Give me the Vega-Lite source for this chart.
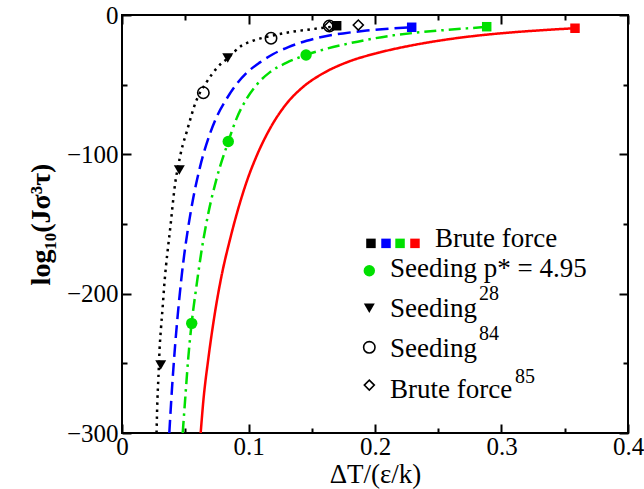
{
  "$schema": "https://vega.github.io/schema/vega-lite/v6.json",
  "width": 506,
  "height": 418,
  "autosize": {"type": "none"},
  "padding": {"left": 122, "top": 15, "right": 16, "bottom": 56},
  "background": "white",
  "config": {
    "view": {"stroke": "black", "strokeWidth": 2},
    "font": "Liberation Serif, serif",
    "axis": {
      "labelFont": "Liberation Serif, serif",
      "titleFont": "Liberation Serif, serif",
      "labelColor": "black",
      "titleColor": "black",
      "tickColor": "black",
      "tickWidth": 2,
      "domain": false,
      "grid": false,
      "labelFontSize": 25,
      "titleFontSize": 27,
      "titleFontWeight": "normal",
      "labelOverlap": false,
      "labelFlush": false
    }
  },
  "datasets": {
    "curves": [
      {"series": "s1", "x": 0.0273, "y": -300}, {"series": "s1", "x": 0.0280, "y": -276}, {"series": "s1", "x": 0.0288, "y": -260},
      {"series": "s1", "x": 0.0297, "y": -240}, {"series": "s1", "x": 0.0308, "y": -225}, {"series": "s1", "x": 0.0322, "y": -209},
      {"series": "s1", "x": 0.0334, "y": -194}, {"series": "s1", "x": 0.0348, "y": -180}, {"series": "s1", "x": 0.0366, "y": -165},
      {"series": "s1", "x": 0.0385, "y": -150}, {"series": "s1", "x": 0.0402, "y": -135}, {"series": "s1", "x": 0.0420, "y": -121},
      {"series": "s1", "x": 0.0445, "y": -108}, {"series": "s1", "x": 0.0470, "y": -97}, {"series": "s1", "x": 0.0511, "y": -84},
      {"series": "s1", "x": 0.0585, "y": -62}, {"series": "s1", "x": 0.0670, "y": -48}, {"series": "s1", "x": 0.0750, "y": -38},
      {"series": "s1", "x": 0.0836, "y": -31}, {"series": "s1", "x": 0.0946, "y": -22}, {"series": "s1", "x": 0.1036, "y": -18.5},
      {"series": "s1", "x": 0.1180, "y": -15}, {"series": "s1", "x": 0.1350, "y": -12}, {"series": "s1", "x": 0.1500, "y": -10.2},
      {"series": "s1", "x": 0.1697, "y": -8},
      {"series": "s2", "x": 0.0374, "y": -300}, {"series": "s2", "x": 0.0385, "y": -283}, {"series": "s2", "x": 0.0396, "y": -267},
      {"series": "s2", "x": 0.0406, "y": -254}, {"series": "s2", "x": 0.0420, "y": -237}, {"series": "s2", "x": 0.0432, "y": -224},
      {"series": "s2", "x": 0.0445, "y": -211}, {"series": "s2", "x": 0.0458, "y": -199}, {"series": "s2", "x": 0.0472, "y": -187},
      {"series": "s2", "x": 0.0492, "y": -172}, {"series": "s2", "x": 0.0524, "y": -152}, {"series": "s2", "x": 0.0564, "y": -131},
      {"series": "s2", "x": 0.0617, "y": -109}, {"series": "s2", "x": 0.0696, "y": -85}, {"series": "s2", "x": 0.0749, "y": -73},
      {"series": "s2", "x": 0.0828, "y": -60}, {"series": "s2", "x": 0.0907, "y": -49.5}, {"series": "s2", "x": 0.0986, "y": -41.5},
      {"series": "s2", "x": 0.1091, "y": -34}, {"series": "s2", "x": 0.1196, "y": -28}, {"series": "s2", "x": 0.1315, "y": -23},
      {"series": "s2", "x": 0.1460, "y": -18.5}, {"series": "s2", "x": 0.1618, "y": -15}, {"series": "s2", "x": 0.1747, "y": -13.2},
      {"series": "s2", "x": 0.1934, "y": -11.2}, {"series": "s2", "x": 0.2119, "y": -9.8}, {"series": "s2", "x": 0.2290, "y": -8.8},
      {"series": "s3", "x": 0.0480, "y": -300}, {"series": "s3", "x": 0.0504, "y": -270}, {"series": "s3", "x": 0.0524, "y": -246},
      {"series": "s3", "x": 0.0551, "y": -221}, {"series": "s3", "x": 0.0591, "y": -193}, {"series": "s3", "x": 0.0630, "y": -168.5},
      {"series": "s3", "x": 0.0682, "y": -142.5}, {"series": "s3", "x": 0.0749, "y": -117}, {"series": "s3", "x": 0.0840, "y": -91},
      {"series": "s3", "x": 0.0907, "y": -74}, {"series": "s3", "x": 0.0986, "y": -60}, {"series": "s3", "x": 0.1065, "y": -50},
      {"series": "s3", "x": 0.1170, "y": -41}, {"series": "s3", "x": 0.1302, "y": -34.2}, {"series": "s3", "x": 0.1455, "y": -28.7},
      {"series": "s3", "x": 0.1618, "y": -24.2}, {"series": "s3", "x": 0.1750, "y": -21.3}, {"series": "s3", "x": 0.1934, "y": -17.8},
      {"series": "s3", "x": 0.2145, "y": -14.6}, {"series": "s3", "x": 0.2303, "y": -12.9}, {"series": "s3", "x": 0.2540, "y": -10.9},
      {"series": "s3", "x": 0.2725, "y": -9.6}, {"series": "s3", "x": 0.2883, "y": -8.6},
      {"series": "s4", "x": 0.0622, "y": -300}, {"series": "s4", "x": 0.0643, "y": -277}, {"series": "s4", "x": 0.0682, "y": -247},
      {"series": "s4", "x": 0.0735, "y": -213.5}, {"series": "s4", "x": 0.0783, "y": -189}, {"series": "s4", "x": 0.0854, "y": -161},
      {"series": "s4", "x": 0.0911, "y": -141.5}, {"series": "s4", "x": 0.0986, "y": -119.5}, {"series": "s4", "x": 0.1065, "y": -101},
      {"series": "s4", "x": 0.1170, "y": -81.5}, {"series": "s4", "x": 0.1302, "y": -63.5}, {"series": "s4", "x": 0.1433, "y": -51.5},
      {"series": "s4", "x": 0.1591, "y": -41.8}, {"series": "s4", "x": 0.1776, "y": -34}, {"series": "s4", "x": 0.2040, "y": -26.8},
      {"series": "s4", "x": 0.2303, "y": -21.6}, {"series": "s4", "x": 0.2567, "y": -17.6}, {"series": "s4", "x": 0.2830, "y": -14.6},
      {"series": "s4", "x": 0.3093, "y": -12.4}, {"series": "s4", "x": 0.3357, "y": -10.7}, {"series": "s4", "x": 0.3581, "y": -9.5}
    ],
    "squares": [
      {"series": "s1", "x": 0.1697, "y": -7.7}, {"series": "s2", "x": 0.2290, "y": -8.8},
      {"series": "s3", "x": 0.2883, "y": -8.4}, {"series": "s4", "x": 0.3581, "y": -9.5},
      {"series": "s1", "x": 0.1968, "y": -163.9}, {"series": "s2", "x": 0.2087, "y": -163.9},
      {"series": "s3", "x": 0.2198, "y": -163.9}, {"series": "s4", "x": 0.2316, "y": -163.9}
    ],
    "markers": [
      {"kind": "seedp", "x": 0.0551, "y": -221.3}, {"kind": "seedp", "x": 0.0840, "y": -90.8},
      {"kind": "seedp", "x": 0.1455, "y": -28.7}, {"kind": "seedp", "x": 0.1955, "y": -183.5},
      {"kind": "seed28", "x": 0.0306, "y": -251.2}, {"kind": "seed28", "x": 0.0453, "y": -111.3},
      {"kind": "seed28", "x": 0.0836, "y": -30.9}, {"kind": "seed28", "x": 0.1955, "y": -210.5},
      {"kind": "seed84", "x": 0.0643, "y": -55.8}, {"kind": "seed84", "x": 0.1178, "y": -16.7},
      {"kind": "seed84", "x": 0.1639, "y": -7.9}, {"kind": "seed84", "x": 0.1955, "y": -238.5},
      {"kind": "brute85", "x": 0.1639, "y": -7.9}, {"kind": "brute85", "x": 0.1868, "y": -7.2},
      {"kind": "brute85", "x": 0.1955, "y": -265.6}
    ],
    "legendText": [
      {"label": "Brute force", "x": 0.2474, "y": -166.8},
      {"label": "Seeding p* = 4.95", "x": 0.2119, "y": -187.8},
      {"label": "Seeding", "x": 0.2119, "y": -216.5},
      {"label": "Seeding", "x": 0.2119, "y": -245.2},
      {"label": "Brute force", "x": 0.2119, "y": -275.1}
    ],
    "legendSup": [
      {"label": "28", "x": 0.2823, "y": -204.5},
      {"label": "84", "x": 0.2823, "y": -233.3},
      {"label": "85", "x": 0.3107, "y": -263.9}
    ]
  },
  "resolve": {"axis": {"x": "independent", "y": "independent"}},
  "layer": [
    {
      "data": {"name": "curves"},
      "mark": {"type": "line", "strokeWidth": 2.5, "interpolate": "monotone", "clip": true},
      "encoding": {
        "x": {"field": "x", "type": "quantitative", "scale": {"domain": [0, 0.4], "nice": false, "zero": false},
          "axis": {"orient": "bottom", "values": [0, 0.1, 0.2, 0.3, 0.4], "format": "~g", "tickSize": -9, "labelPadding": 10,
            "title": "ΔT/(ε/k)", "titleX": 253, "titleY": 49, "titleAlign": "center", "titleBaseline": "alphabetic"}},
        "y": {"field": "y", "type": "quantitative", "scale": {"domain": [-300, 0], "nice": false, "zero": false},
          "axis": {"orient": "left", "values": [0, -100, -200, -300], "tickSize": -9, "labelPadding": 13,
            "title": "log₁₀(Jσ³τ)", "titleFontSize": 28, "titleFontWeight": "bold", "titleX": -81, "titleY": 209, "titleAngle": -90, "titleAlign": "center", "titleBaseline": "middle"}},
        "color": {"field": "series", "type": "nominal", "scale": {"domain": ["s1", "s2", "s3", "s4"], "range": ["black", "blue", "#00e000", "red"]}, "legend": null},
        "strokeDash": {"field": "series", "type": "nominal", "scale": {"domain": ["s1", "s2", "s3", "s4"], "range": [[2.5, 4.5], [13, 6], [12, 5, 2.5, 5], [1, 0]]}, "legend": null}
      }
    },
    {
      "data": {"name": "squares"},
      "mark": {"type": "point", "shape": "square", "filled": true, "size": 90, "opacity": 1},
      "encoding": {
        "x": {"field": "x", "type": "quantitative", "axis": {"orient": "top", "values": [0, 0.1, 0.2, 0.3, 0.4], "tickSize": -9, "labels": false, "title": null}},
        "y": {"field": "y", "type": "quantitative", "axis": {"orient": "right", "values": [0, -100, -200, -300], "tickSize": -9, "labels": false, "title": null}},
        "color": {"field": "series", "type": "nominal", "legend": null}
      }
    },
    {
      "data": {"name": "markers"},
      "transform": [{"filter": "datum.kind === 'seedp'"}],
      "mark": {"type": "point", "shape": "circle", "filled": true, "size": 130, "color": "#00e000", "opacity": 1},
      "encoding": {
        "x": {"field": "x", "type": "quantitative", "axis": {"orient": "bottom", "values": [0.05, 0.15, 0.25, 0.35], "tickSize": -5, "labels": false, "title": null}},
        "y": {"field": "y", "type": "quantitative", "axis": {"orient": "left", "values": [-50, -150, -250], "tickSize": -5, "labels": false, "title": null}}
      }
    },
    {
      "data": {"name": "markers"},
      "transform": [{"filter": "datum.kind === 'seed28'"}],
      "mark": {"type": "point", "shape": "triangle-down", "filled": true, "size": 120, "color": "black", "opacity": 1},
      "encoding": {
        "x": {"field": "x", "type": "quantitative", "axis": {"orient": "top", "values": [0.05, 0.15, 0.25, 0.35], "tickSize": -5, "labels": false, "title": null}},
        "y": {"field": "y", "type": "quantitative", "axis": {"orient": "right", "values": [-50, -150, -250], "tickSize": -5, "labels": false, "title": null}}
      }
    },
    {
      "data": {"name": "markers"},
      "transform": [{"filter": "datum.kind === 'seed84'"}],
      "mark": {"type": "point", "shape": "circle", "filled": false, "size": 130, "color": "black", "strokeWidth": 1.6, "opacity": 1},
      "encoding": {
        "x": {"field": "x", "type": "quantitative", "axis": null},
        "y": {"field": "y", "type": "quantitative", "axis": null}
      }
    },
    {
      "data": {"name": "markers"},
      "transform": [{"filter": "datum.kind === 'brute85'"}],
      "mark": {"type": "point", "shape": "diamond", "filled": false, "size": 100, "color": "black", "strokeWidth": 1.6, "opacity": 1},
      "encoding": {
        "x": {"field": "x", "type": "quantitative", "axis": null},
        "y": {"field": "y", "type": "quantitative", "axis": null}
      }
    },
    {
      "data": {"name": "legendText"},
      "mark": {"type": "text", "align": "left", "baseline": "alphabetic", "fontSize": 27, "font": "Liberation Serif, serif", "color": "black"},
      "encoding": {
        "x": {"field": "x", "type": "quantitative", "axis": null},
        "y": {"field": "y", "type": "quantitative", "axis": null},
        "text": {"field": "label"}
      }
    },
    {
      "data": {"name": "legendSup"},
      "mark": {"type": "text", "align": "left", "baseline": "alphabetic", "fontSize": 20, "font": "Liberation Serif, serif", "color": "black"},
      "encoding": {
        "x": {"field": "x", "type": "quantitative", "axis": null},
        "y": {"field": "y", "type": "quantitative", "axis": null},
        "text": {"field": "label"}
      }
    }
  ]
}
